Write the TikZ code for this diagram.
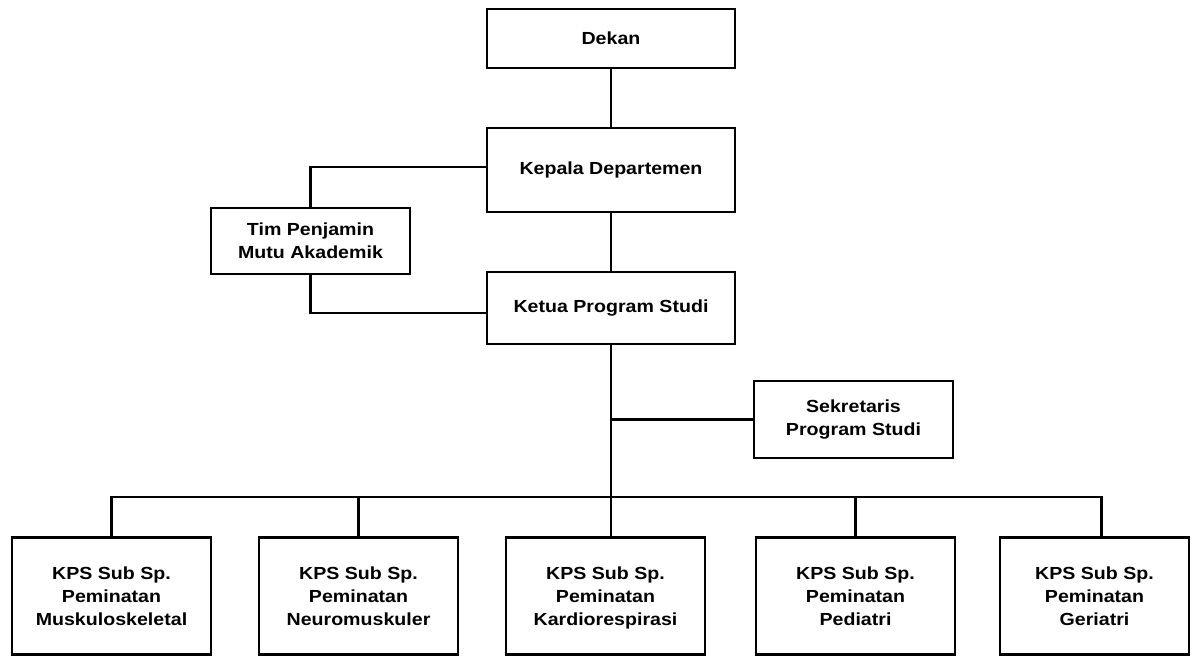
\documentclass[tikz,border=0pt]{standalone}
\usepackage{fontspec}
\setmainfont{Liberation Sans}[FakeStretch=1.12]
\usetikzlibrary{positioning}
\begin{document}
\begin{tikzpicture}[x=1pt, y=-1pt,
    unit/.style={draw, rectangle, line width=2.4pt, align=center, inner sep=0pt, minimum width=248pt, font=\fontsize{17.5}{23}\selectfont\bfseries},
    kps/.style={unit, minimum width=199pt, minimum height=117pt, text depth=0pt},
    link/.style={line width=2.4pt}]
    \useasboundingbox (0,0) rectangle (1193,657);

    \node (dekan) [unit, minimum height=59pt] at (611,38.5) {Dekan};
    \node (kepala) [unit, minimum height=84pt, below=57.6pt of dekan] {Kepala Departemen};
    \node (ketua) [unit, minimum height=72pt, below=57.6pt of kepala] {Ketua Program Studi};
    \node (tim) [unit, minimum width=199pt, minimum height=66pt] at (310.5,241) {Tim Penjamin\\Mutu Akademik};
    \node (sekretaris) [unit, minimum width=199pt, minimum height=77pt] at (853.5,419.5) {Sekretaris\\Program Studi};

    \node (kps1) [kps] at (111.5,596) {KPS Sub Sp.\\Peminatan\\Muskuloskeletal};
    \node (kps2) [kps, right=45.6pt of kps1] {KPS Sub Sp.\\Peminatan\\Neuromuskuler};
    \node (kps3) [kps, right=45.6pt of kps2] {KPS Sub Sp.\\Peminatan\\Kardiorespirasi};
    \node (kps4) [kps, right=48.6pt of kps3] {KPS Sub Sp.\\Peminatan\\Pediatri};
    \node (kps5) [kps, minimum width=189pt, right=42.6pt of kps4] {KPS Sub Sp.\\Peminatan\\Geriatri};

    \coordinate (bus) at (0,497);

    \draw[link] (dekan) -- (kepala);
    \draw[link] (kepala) -- (ketua);
    \draw[link] ([yshift=3pt]kepala.west) -| (tim.north);
    \draw[link] (tim.south) |- ([yshift=-5pt]ketua.west);
    \draw[link] (ketua.south) -- (ketua.south |- kps3.north);
    \draw[link] (ketua.south |- sekretaris.west) -- (sekretaris.west);
    \draw[link] (kps1.north) -- (kps1.north |- bus) -- ([xshift=7pt]kps5.north |- bus) -- ([xshift=7pt]kps5.north);
    \draw[link] (kps2.north) -- (kps2.north |- bus);
    \draw[link] (kps4.north) -- (kps4.north |- bus);
\end{tikzpicture}
\end{document}
